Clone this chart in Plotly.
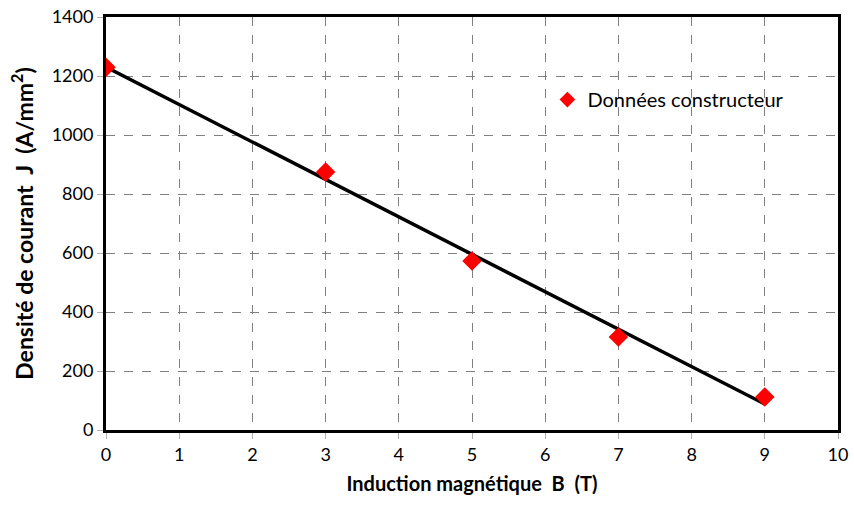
import plotly.graph_objects as go

B_values = [0, 3, 5, 7, 9]
J_values = [1230, 875, 573, 315, 112]
trend_B = [0, 9]
trend_J = [1230, 88]
x_ticks = list(range(0, 11))
y_ticks = list(range(0, 1401, 200))

font_family = "Lato, Open Sans, sans-serif"

fig = go.Figure()
fig.add_trace(go.Scatter(
    x=trend_B, y=trend_J, mode="lines",
    line=dict(color="black", width=3.5),
    showlegend=False, hoverinfo="skip"))
fig.add_trace(go.Scatter(
    x=B_values, y=J_values, mode="markers",
    marker=dict(symbol="diamond", color="#ff0000", size=15),
    name="Données constructeur"))

fig.update_layout(
    width=854, height=507,
    margin=dict(l=106, r=16, t=17, b=77),
    paper_bgcolor="white", plot_bgcolor="white",
    font=dict(family=font_family, size=18, color="black"),
    legend=dict(x=0.603, y=0.80, xanchor="left", yanchor="middle",
                bgcolor="rgba(0,0,0,0)", font=dict(size=20),
                itemwidth=30, itemsizing="constant"),
    showlegend=True,
)
fig.update_xaxes(
    range=[0, 10], tickvals=x_ticks, ticktext=[str(v) for v in x_ticks],
    showgrid=True, gridcolor="#808080", griddash="dash", gridwidth=1,
    showline=True, linecolor="black", linewidth=3, mirror=True,
    ticks="outside", ticklen=6, tickcolor="#b0b0b0",
    zeroline=False, automargin=False,
    title=dict(text="<b>Induction magnétique  B  (T)</b>", font=dict(size=20), standoff=14),
)
fig.update_yaxes(
    range=[0, 1400], tickvals=y_ticks, ticktext=[str(v) for v in y_ticks],
    showgrid=True, gridcolor="#808080", griddash="dash", gridwidth=1,
    showline=True, linecolor="black", linewidth=3, mirror=True,
    ticks="outside", ticklen=6, tickcolor="#b0b0b0",
    zeroline=False, automargin=False,
    title=dict(text="<b>Densité de courant  J  (A/mm<sup>2</sup>)</b>", font=dict(size=23), standoff=12),
)

fig.write_html("out.html", config={"displayModeBar": False},
               post_script="document.body.style.margin='0px';")
